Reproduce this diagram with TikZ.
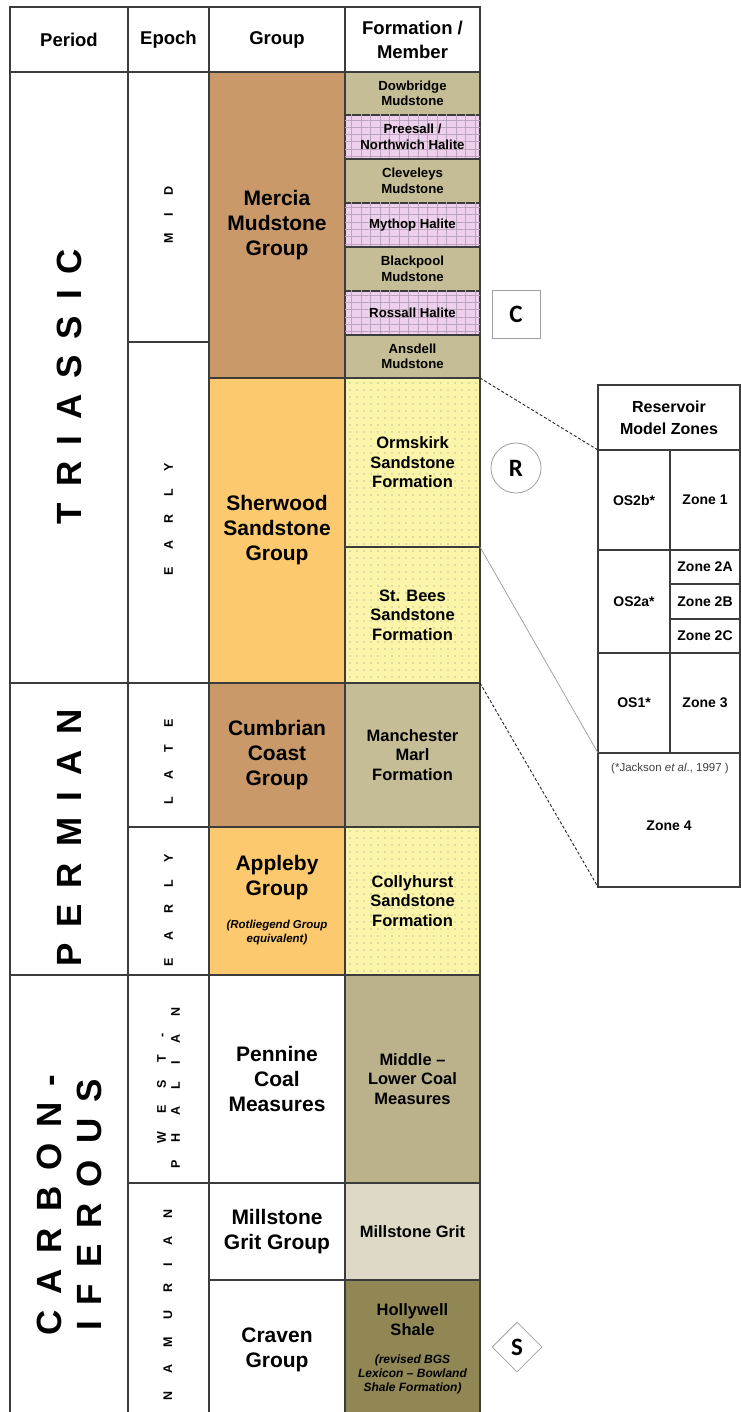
\documentclass[tikz,border=0pt]{standalone}
\usepackage{fontspec}
\setmainfont{Liberation Sans}
\newfontfamily\markfont{Carlito}
\usetikzlibrary{positioning,shapes.geometric,patterns.meta}

\definecolor{mercia}{RGB}{201,153,106}
\definecolor{sherwood}{RGB}{253,201,110}
\definecolor{mudtan}{RGB}{197,189,150}
\definecolor{halpink}{RGB}{238,208,236}
\definecolor{halgrid}{RGB}{185,165,190}
\definecolor{sandyel}{RGB}{250,245,168}
\definecolor{coaltan}{RGB}{187,178,140}
\definecolor{gritbeige}{RGB}{221,217,198}
\definecolor{shaleolive}{RGB}{145,135,85}
\definecolor{rulegray}{RGB}{60,60,60}

\newcommand{\fsz}[2]{\fontsize{#1}{#2}\selectfont}
\newcommand{\remark}[3]{{\itshape\fontsize{#1}{#2}\selectfont\begin{tabular}[t]{@{}c@{}}#3\end{tabular}}}

\begin{document}
\begin{tikzpicture}[
        x=1pt, y=-1pt,
        cell/.style={
                rectangle,
                draw=rulegray,
                line width=1.2pt,
                inner sep=0pt,
                outer sep=0pt,
                align=center,
                anchor=north west
            },
        hdcell/.style={cell, minimum height=65pt, font=\bfseries\fsz{18.5}{24}},
        grp/.style={cell, minimum width=136pt, font=\bfseries\fsz{21}{25}},
        fm/.style={cell, minimum width=135pt, font=\bfseries\fsz{16.5}{19.5}},
        fmsmall/.style={fm, font=\bfseries\fsz{13.2}{15.5}},
        rz/.style={cell, font=\bfseries\fsz{14}{17}},
        mud/.style={fill=mudtan},
        halite/.style={
                fill=halpink,
                postaction={pattern={Lines[angle=0, distance=7.3pt, line width=0.6pt]}, pattern color=halgrid},
                postaction={pattern={Lines[angle=90, distance=9.5pt, line width=0.6pt]}, pattern color=halgrid}
            },
        sand/.style={fill=sandyel, postaction={pattern={Dots[distance=7pt, radius=0.55pt]}, pattern color=black!45}},
        periodlbl/.style={rotate=90, align=center, font={\bfseries\fsz{35}{40}\spaceskip=16pt\relax}},
        epochlbl/.style={rotate=90, align=center, font={\bfseries\fsz{12.5}{14}\spaceskip=17.5pt\relax}},
        marker/.style={draw=gray!75, line width=0.8pt, inner sep=0pt, font={\markfont\bfseries\fsz{25}{25}}},
        zoomline/.style={black!85, line width=0.9pt, dash pattern=on 3pt off 2pt},
        zoomfine/.style={gray!80, line width=0.7pt}
    ]
    \useasboundingbox (0,0) rectangle (740,1412);

    % column heads
    \node[hdcell, minimum width=118pt] (hperiod) at (10,7) {Period};
    \node[hdcell, minimum width=81pt, right=0pt of hperiod] (hepoch) {Epoch};
    \node[hdcell, minimum width=136pt, right=0pt of hepoch] (hgroup) {Group};
    \node[hdcell, minimum width=135pt, right=0pt of hgroup] (hform) {Formation /\\Member};

    % periods
    \node[cell, minimum width=118pt, minimum height=611pt] (triassic) at (10,72) {};
    \node[cell, minimum width=118pt, minimum height=292pt, below=0pt of triassic] (permian) {};
    \node[cell, minimum width=118pt, minimum height=445pt, below=0pt of permian] (carbon) {};
    \node[periodlbl] (triassictxt) at ([yshift=-9pt]triassic.center) {T R I A S S I C};
    \node[periodlbl] (permiantxt) at ([yshift=-9pt]permian.center) {P E R M I A N};
    \node[periodlbl] (carbontxt) at (69,1205) {C A R B O N -\\I F E R O U S};

    % epochs
    \node[cell, minimum width=81pt, minimum height=270pt] (mid) at (128,72) {};
    \node[cell, minimum width=81pt, minimum height=341pt, below=0pt of mid] (earlytri) {};
    \node[cell, minimum width=81pt, minimum height=144pt, below=0pt of earlytri] (late) {};
    \node[cell, minimum width=81pt, minimum height=148pt, below=0pt of late] (earlyperm) {};
    \node[cell, minimum width=81pt, minimum height=208pt, below=0pt of earlyperm] (westph) {};
    \node[cell, minimum width=81pt, minimum height=237pt, below=0pt of westph] (namur) {};
    \node[epochlbl] (midtxt) at ([yshift=-8pt]mid.center) {M I D};
    \node[epochlbl] (earlytritxt) at ([yshift=-7pt]earlytri.center) {E A R L Y};
    \node[epochlbl] (latetxt) at ([yshift=-7pt]late.center) {L A T E};
    \node[epochlbl] (earlypermtxt) at ([yshift=-9pt]earlyperm.center) {E A R L Y};
    \node[epochlbl] (westphtxt) at ([yshift=-9pt]westph.center) {W E S T -\\P H A L I A N};
    \node[epochlbl] (namurtxt) at (168,1305) {N A M U R I A N};

    % groups
    \node[grp, fill=mercia, minimum height=306pt] (mercia) at (209,72) {Mercia\\Mudstone\\Group};
    \node[grp, fill=sherwood, minimum height=305pt, below=0pt of mercia] (sherwood) {Sherwood\\Sandstone\\Group};
    \node[grp, fill=mercia, minimum height=144pt, below=0pt of sherwood] (cumbrian) {Cumbrian\\Coast\\Group};
    \node[grp, fill=sherwood, minimum height=148pt, below=0pt of cumbrian] (appleby)
        {Appleby\\Group\\[8pt]\remark{11.5}{13.5}{(Rotliegend Group\\equivalent)}};
    \node[grp, minimum height=208pt, below=0pt of appleby] (pennine) {Pennine\\Coal\\Measures};
    \node[grp, minimum height=97pt, below=0pt of pennine] (millgroup) {Millstone\\Grit Group};
    \node[grp, minimum height=140pt, below=0pt of millgroup] (craven) {Craven\\Group};

    % formations / members
    \node[fmsmall, mud, minimum height=43pt] (dowbridge) at (345,72) {Dowbridge\\Mudstone};
    \node[fmsmall, halite, minimum height=44pt, below=0pt of dowbridge] (preesall) {Preesall /\\Northwich Halite};
    \node[fmsmall, mud, minimum height=44pt, below=0pt of preesall] (cleveleys) {Cleveleys\\Mudstone};
    \node[fmsmall, halite, minimum height=44pt, below=0pt of cleveleys] (mythop) {Mythop Halite};
    \node[fmsmall, mud, minimum height=44pt, below=0pt of mythop] (blackpool) {Blackpool\\Mudstone};
    \node[fmsmall, halite, minimum height=44pt, below=0pt of blackpool] (rossall) {Rossall Halite};
    \node[fmsmall, mud, minimum height=43pt, below=0pt of rossall] (ansdell) {Ansdell\\Mudstone};
    \node[fm, sand, minimum height=169pt, below=0pt of ansdell] (ormskirk) {Ormskirk\\Sandstone\\Formation};
    \node[fm, sand, minimum height=136pt, below=0pt of ormskirk] (stbees) {St. Bees\\Sandstone\\Formation};
    \node[fm, mud, minimum height=144pt, below=0pt of stbees] (manchester) {Manchester\\Marl\\Formation};
    \node[fm, sand, minimum height=148pt, below=0pt of manchester] (collyhurst) {Collyhurst\\Sandstone\\Formation};
    \node[fm, fill=coaltan, minimum height=208pt, below=0pt of collyhurst] (coalmeas) {Middle --\\Lower Coal\\Measures};
    \node[fm, fill=gritbeige, minimum height=97pt, below=0pt of coalmeas] (grit) {Millstone Grit};
    \node[fm, fill=shaleolive, minimum height=140pt, below=0pt of grit] (hollywell)
        {Hollywell\\Shale\\[9pt]\remark{12}{14}{(revised BGS\\Lexicon -- Bowland\\Shale Formation)}};

    % play elements
    \node[marker, minimum size=48pt] (cap) at (516,314) {C};
    \node[marker, circle, minimum size=50pt] (res) at (516,468) {R};
    \node[marker, diamond, minimum size=50pt] (src) at (517,1347) {S};

    % reservoir model zones
    \node[cell, minimum width=142pt, minimum height=65pt, font=\bfseries\fsz{16}{22}] (rmz) at (598,385) {Reservoir\\Model Zones};
    \node[rz, minimum width=72pt, minimum height=100pt] (os2b) at (rmz.south west) {OS2b*};
    \node[rz, minimum width=70pt, minimum height=100pt] (zone1) at (os2b.north east) {Zone 1};
    \node[rz, minimum width=72pt, minimum height=103pt] (os2a) at (os2b.south west) {OS2a*};
    \node[rz, minimum width=70pt, minimum height=34pt] (zone2a) at (os2a.north east) {Zone 2A};
    \node[rz, minimum width=70pt, minimum height=35pt] (zone2b) at (zone2a.south west) {Zone 2B};
    \node[rz, minimum width=70pt, minimum height=34pt] (zone2c) at (zone2b.south west) {Zone 2C};
    \node[rz, minimum width=72pt, minimum height=100pt] (os1) at (os2a.south west) {OS1*};
    \node[rz, minimum width=70pt, minimum height=100pt] (zone3) at (os1.north east) {Zone 3};
    \node[rz, minimum width=142pt, minimum height=134pt] (zone4) at (os1.south west) {\\[4pt]Zone 4};
    \node[font=\fsz{11.5}{13}, text=black!75, inner sep=0pt, below=10pt of os1.south east] (jackson) {(*Jackson \textit{et al}., 1997 )};

    \draw[zoomline] (ormskirk.north east) -- (rmz.south west);
    \draw[zoomfine] (stbees.north east) -- (os1.south west);
    \draw[zoomline] (stbees.south east) -- (zone4.south west);
\end{tikzpicture}
\end{document}
